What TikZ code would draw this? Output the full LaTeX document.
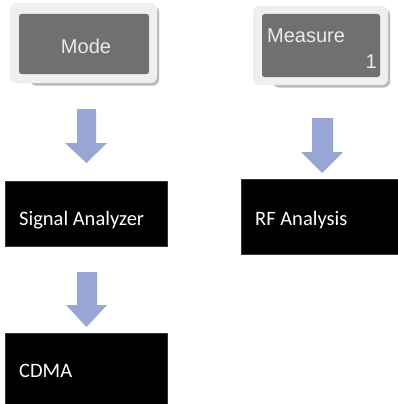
\documentclass[tikz,border=0pt]{standalone}
\usepackage{fontspec}
\setmainfont{Carlito}
\newfontfamily\btnfont{Liberation Sans}
\definecolor{arrowblue}{RGB}{151,166,212}
\definecolor{btngray}{RGB}{112,112,112}
\definecolor{btnframe}{RGB}{239,239,239}
\definecolor{btnshadow}{RGB}{185,185,185}
\definecolor{btntextc}{RGB}{234,234,234}
\tikzset{
  blackbox/.style={fill=black, draw=black!80, line width=0.6pt, inner sep=0pt, anchor=north west},
  boxlabel/.style={text=white, font=\fontsize{20.5}{24}\selectfont, inner sep=0pt, anchor=base west},
  btntext/.style={text=btntextc, font=\btnfont\fontsize{20}{24}\selectfont, inner sep=0pt},
  bluearrow/.style={fill=arrowblue, draw=none},
  btnshadowstyle/.style={fill=btnshadow, rounded corners=6pt},
  btnouter/.style={fill=btnframe, rounded corners=6pt},
  btninner/.style={fill=btngray, rounded corners=2.5pt}
}
\begin{document}
\begin{tikzpicture}[x=1pt,y=-1pt]
\useasboundingbox[fill=white] (0,0) rectangle (398,404);

% Mode button
\fill[btnshadowstyle] (30,6) rectangle (159,85.5);
\fill[btnouter] (10,3) rectangle (157,83);
\fill[btninner] (19,14) rectangle (149,74);
\node[btntext, anchor=base] (mode) at (86,54) {Mode};

% Measure button
\fill[btnshadowstyle] (273,9) rectangle (390,87.5);
\fill[btnouter] (253,6) rectangle (388,85);
\fill[btninner] (262,14) rectangle (380,77);
\node[btntext, anchor=base west] (measure) at (267,43) {Measure};
\node[btntext, anchor=base east] (one) at (377,68) {1};

% arrows
\fill[bluearrow] (77,109) -- (96,109) -- (96,143) -- (107,143) -- (86.5,163) -- (65,143) -- (77,143) -- cycle;
\fill[bluearrow] (312,118) -- (333,118) -- (333,152) -- (343,152) -- (322,173) -- (301,152) -- (312,152) -- cycle;
\fill[bluearrow] (77,272) -- (97,272) -- (97,305) -- (107,305) -- (86.5,327) -- (66,305) -- (77,305) -- cycle;

% black boxes
\node[blackbox, minimum width=162pt, minimum height=65pt] (sa) at (5,181) {};
\node[boxlabel] (salabel) at (19,225) {Signal Analyzer};

\node[blackbox, minimum width=157pt, minimum height=75pt] (rf) at (241,179) {};
\node[boxlabel] (rflabel) at (255,225) {RF Analysis};

\node[blackbox, minimum width=162pt, minimum height=72pt] (cdma) at (5,333) {};
\node[boxlabel] (cdmalabel) at (19,377) {CDMA};
\end{tikzpicture}
\end{document}
